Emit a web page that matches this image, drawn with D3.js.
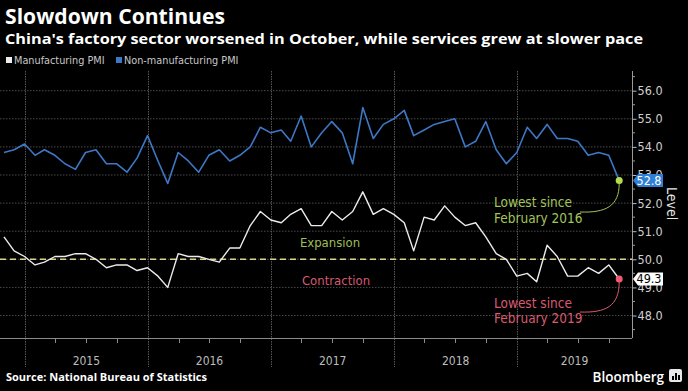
<!DOCTYPE html>
<html><head><meta charset="utf-8">
<script src="https://cdn.jsdelivr.net/npm/d3@7"></script>
<style>
html,body{margin:0;padding:0;background:#000;}
svg{display:block;}
</style></head>
<body><svg id="chart" width="688" height="391"></svg>
<script>
// ---- data ----
const months = [
 "2014-10","2014-11","2014-12",
 "2015-01","2015-02","2015-03","2015-04","2015-05","2015-06","2015-07","2015-08","2015-09","2015-10","2015-11","2015-12",
 "2016-01","2016-02","2016-03","2016-04","2016-05","2016-06","2016-07","2016-08","2016-09","2016-10","2016-11","2016-12",
 "2017-01","2017-02","2017-03","2017-04","2017-05","2017-06","2017-07","2017-08","2017-09","2017-10","2017-11","2017-12",
 "2018-01","2018-02","2018-03","2018-04","2018-05","2018-06","2018-07","2018-08","2018-09","2018-10","2018-11","2018-12",
 "2019-01","2019-02","2019-03","2019-04","2019-05","2019-06","2019-07","2019-08","2019-09","2019-10"];
const manufacturingPMI = [
 50.8,50.3,50.1,
 49.8,49.9,50.1,50.1,50.2,50.2,50.0,49.7,49.8,49.8,49.6,49.7,
 49.4,49.0,50.2,50.1,50.1,50.0,49.9,50.4,50.4,51.2,51.7,51.4,
 51.3,51.6,51.8,51.2,51.2,51.7,51.4,51.7,52.4,51.6,51.8,51.6,
 51.3,50.3,51.5,51.4,51.9,51.5,51.2,51.3,50.8,50.2,50.0,49.4,
 49.5,49.2,50.5,50.1,49.4,49.4,49.7,49.5,49.8,49.3];
const nonManufacturingPMI = [
 53.8,53.9,54.1,
 53.7,53.9,53.7,53.4,53.2,53.8,53.9,53.4,53.4,53.1,53.6,54.4,
 53.5,52.7,53.8,53.5,53.1,53.7,53.9,53.5,53.7,54.0,54.7,54.5,
 54.6,54.2,55.1,54.0,54.5,54.9,54.5,53.4,55.4,54.3,54.8,55.0,
 55.3,54.4,54.6,54.8,54.9,55.0,54.0,54.2,54.9,53.9,53.4,53.8,
 54.7,54.3,54.8,54.3,54.3,54.2,53.7,53.8,53.7,52.8];
const years = [2015,2016,2017,2018,2019];
const yTicks = [48,49,50,51,52,53,54,55,56];
const legendLabels = ["Manufacturing PMI","Non-manufacturing PMI"];
const seriesColors = ["#ececec","#3d78c6"];

// ---- layout ----
const svg = d3.select("#chart");
const plotLeft = 0, plotRight = 632, plotTop = 71, plotBottom = 338;
const monthEnd = s => { const [y,m] = s.split("-").map(Number); return new Date(y, m, 0); };
const dates = months.map(monthEnd);

const x = d3.scaleTime()
  .domain([new Date(2014,9,31), new Date(2019,11,8)])
  .range([4, plotRight]);
const y = d3.scaleLinear().domain([47.2, 56.7]).range([plotBottom, plotTop]);

svg.append("rect").attr("width",688).attr("height",391).attr("fill","#000");

// title
svg.append("text").attr("x",5).attr("y",24)
  .attr("font-family","'Open Sans',sans-serif").attr("font-weight",700)
  .attr("font-size",20.5).attr("fill","#fff")
  .attr("textLength",220).attr("lengthAdjust","spacingAndGlyphs")
  .text("Slowdown Continues");
svg.append("text").attr("x",5).attr("y",44)
  .attr("font-family","'Open Sans',sans-serif").attr("font-weight",700)
  .attr("font-size",15).attr("fill","#fff")
  .attr("textLength",638).attr("lengthAdjust","spacingAndGlyphs")
  .text("China's factory sector worsened in October, while services grew at slower pace");

// legend
const legX = [6, 116];
legendLabels.forEach((lab,i)=>{
  svg.append("rect").attr("x",legX[i]).attr("y",57).attr("width",6).attr("height",6).attr("fill",seriesColors[i]);
  svg.append("text").attr("x",legX[i]+8).attr("y",64)
    .attr("font-family","'DejaVu Sans Condensed','DejaVu Sans',sans-serif")
    .attr("font-size",10.8).attr("fill","#c8c8c8").text(lab);
});

// horizontal gridlines
svg.append("g").selectAll("line").data(yTicks).join("line")
  .attr("x1",plotLeft).attr("x2",plotRight)
  .attr("y1",d=>y(d)).attr("y2",d=>y(d))
  .attr("stroke","#4a4a4a").attr("stroke-width",1).attr("stroke-dasharray","1.5,1.5");

// year separators
const yearStarts = years.map(yr=>new Date(yr,0,1));
svg.append("g").selectAll("line").data(yearStarts).join("line")
  .attr("x1",d=>Math.round(x(d))+0.5).attr("x2",d=>Math.round(x(d))+0.5)
  .attr("y1",plotTop).attr("y2",367)
  .attr("stroke","#555").attr("stroke-width",1).attr("stroke-dasharray","1.5,1");

// bottom axis line
svg.append("line").attr("x1",plotLeft).attr("x2",plotRight)
  .attr("y1",plotBottom+0.5).attr("y2",plotBottom+0.5)
  .attr("stroke","#8a8a8a").attr("stroke-width",1);
// quarter ticks
const qTicks = [];
years.forEach(yr=>[3,6,9].forEach(m=>qTicks.push(new Date(yr,m,1))));
svg.append("g").selectAll("line").data(qTicks).join("line")
  .attr("x1",d=>Math.round(x(d))+0.5).attr("x2",d=>Math.round(x(d))+0.5)
  .attr("y1",plotBottom).attr("y2",plotBottom+5)
  .attr("stroke","#8a8a8a");
// year labels
svg.append("g").selectAll("text").data(years).join("text")
  .attr("x",yr=>{ const a = x(new Date(yr,0,1)); const b = Math.min(x(new Date(yr+1,0,1)), plotRight); return (a+b)/2; })
  .attr("y",365).attr("text-anchor","middle")
  .attr("font-family","'DejaVu Sans Condensed','DejaVu Sans',sans-serif")
  .attr("font-size",12).attr("fill","#bdbdbd").text(d=>d);

// 50 line
svg.append("line").attr("x1",plotLeft).attr("x2",plotRight)
  .attr("y1",y(50)).attr("y2",y(50))
  .attr("stroke","#d8d48a").attr("stroke-width",1.5).attr("stroke-dasharray","6,4");

svg.append("text").attr("x",330).attr("y",247).attr("text-anchor","middle")
  .attr("font-family","'DejaVu Sans Condensed','DejaVu Sans',sans-serif")
  .attr("font-size",13).attr("fill","#9fbf55").text("Expansion");
svg.append("text").attr("x",336).attr("y",285).attr("text-anchor","middle")
  .attr("font-family","'DejaVu Sans Condensed','DejaVu Sans',sans-serif")
  .attr("font-size",13).attr("fill","#d75a70").text("Contraction");

// right axis
const yAxis = d3.axisRight(y).tickValues(yTicks).tickSize(4).tickFormat(d3.format(".1f"));
const gAx = svg.append("g").attr("transform",`translate(${plotRight+0.5},0)`).call(yAxis);
gAx.select(".domain").attr("stroke","#9a9a9a").attr("d",`M0,${plotTop}V${plotBottom}`);
gAx.selectAll(".tick line").attr("stroke","#bbb");
gAx.selectAll(".tick text").attr("x",5).attr("fill","#d0d0d0")
  .attr("font-family","'DejaVu Sans Condensed','DejaVu Sans',sans-serif").attr("font-size",12.5);
const minor = d3.range(47.5,56.6,1);
svg.append("g").selectAll("line").data(minor).join("line")
  .attr("x1",plotRight).attr("x2",plotRight+3)
  .attr("y1",d=>y(d)).attr("y2",d=>y(d)).attr("stroke","#999");

svg.append("text").attr("transform",`translate(667,187) rotate(90)`)
  .attr("font-family","'DejaVu Sans Condensed','DejaVu Sans',sans-serif")
  .attr("font-size",14).attr("fill","#e6e6e6").text("Level");

// lines
const line = d3.line().x((d,i)=>x(dates[i])).y(d=>y(d));
svg.append("path").datum(nonManufacturingPMI).attr("d",line)
  .attr("fill","none").attr("stroke",seriesColors[1]).attr("stroke-width",1.6).attr("stroke-linejoin","round");
svg.append("path").datum(manufacturingPMI).attr("d",line)
  .attr("fill","none").attr("stroke",seriesColors[0]).attr("stroke-width",1.4).attr("stroke-linejoin","round");

// end points and annotations
const last = months.length-1;
const xe = x(dates[last]);
const yb = y(nonManufacturingPMI[last]), yw = y(manufacturingPMI[last]);
const green = "#a3c45a", red = "#d95a70";
svg.append("path").attr("d",`M580,212 C606,213 ${xe},206 ${xe},${yb+3}`)
  .attr("fill","none").attr("stroke",green).attr("stroke-width",1);
svg.append("path").attr("d",`M580,312 C606,313 ${xe},306 ${xe},${yw+3}`)
  .attr("fill","none").attr("stroke",red).attr("stroke-width",1);
svg.append("circle").attr("cx",xe).attr("cy",yb).attr("r",3.5).attr("fill","#b4dc4c");
svg.append("circle").attr("cx",xe).attr("cy",yw).attr("r",3.5).attr("fill","#ee5a72");

const annFont = "'DejaVu Sans Condensed','DejaVu Sans',sans-serif";
[["Lowest since",207],["February 2016",223]].forEach(([t,yy])=>
  svg.append("text").attr("x",494).attr("y",yy).attr("font-family",annFont).attr("font-size",13.5).attr("fill",green).text(t));
[["Lowest since",308],["February 2019",323]].forEach(([t,yy])=>
  svg.append("text").attr("x",494).attr("y",yy).attr("font-family",annFont).attr("font-size",13.5).attr("fill",red).text(t));

// value tags
function tag(v, bg, fg){
  const cy = y(v);
  svg.append("path").attr("d",`M${plotRight+1},${cy} L${plotRight+6},${cy-6.5} H663 V${cy+6.5} H${plotRight+6} Z`).attr("fill",bg);
  svg.append("text").attr("x",649).attr("y",cy+4.5).attr("text-anchor","middle")
    .attr("font-family",annFont).attr("font-size",12.5).attr("fill",fg).text(d3.format(".1f")(v));
}
tag(nonManufacturingPMI[last], "#2f7fd6", "#fff");
tag(manufacturingPMI[last], "#fff", "#000");

// footer
svg.append("text").attr("x",6).attr("y",381)
  .attr("font-family","'Open Sans',sans-serif").attr("font-weight",700)
  .attr("font-size",11).attr("fill","#fff")
  .attr("textLength",201).attr("lengthAdjust","spacingAndGlyphs")
  .text("Source: National Bureau of Statistics");
svg.append("text").attr("x",664).attr("y",382).attr("text-anchor","end")
  .attr("font-family","'Open Sans',sans-serif").attr("font-weight",600)
  .attr("font-size",13.5).attr("fill","#fff").text("Bloomberg");
const lg = svg.append("g").attr("transform","translate(669,369)");
lg.append("rect").attr("width",13).attr("height",13).attr("rx",2).attr("fill","#e8e8e8");
[[3,7,2,4],[6,4,2,7],[9,6,2,5]].forEach(([bx,by,bw,bh])=>
  lg.append("rect").attr("x",bx).attr("y",by).attr("width",bw).attr("height",bh).attr("fill","#000"));
</script></body></html>
